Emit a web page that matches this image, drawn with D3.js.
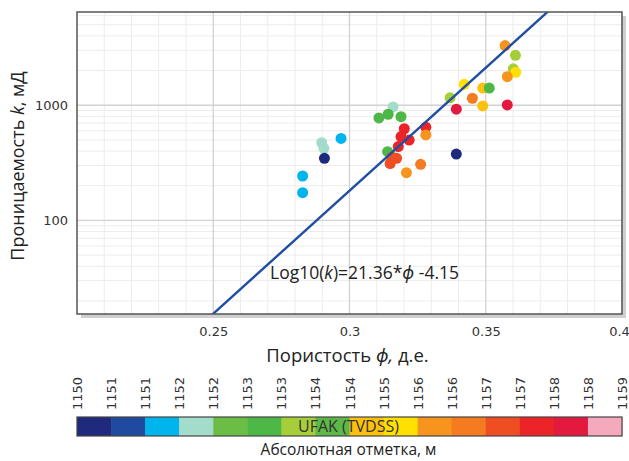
<!DOCTYPE html>
<html>
<head>
<meta charset="utf-8">
<script src="https://cdn.jsdelivr.net/npm/d3@7"></script>
<style>
  body { margin: 0; background: #fff; }
  svg { display: block; }
</style>
</head>
<body>
<div class="chart"></div>
<script>
// porosity / permeability samples, depth (TVDSS) gives the colour
var porosity = [0.3571, 0.3609, 0.3601, 0.3610, 0.3579, 0.3421, 0.3489, 0.3513, 0.3369, 0.3451,
                0.3489, 0.3579, 0.3392, 0.3392, 0.3160, 0.3142, 0.3108, 0.3189, 0.3201, 0.3280,
                0.3280, 0.3189, 0.3219, 0.3179, 0.3140, 0.3173, 0.3149, 0.3156, 0.3261, 0.3209,
                0.2898, 0.2906, 0.2908, 0.2969, 0.2828, 0.2828];
var permeability = [3300, 2710, 2070, 1930, 1770, 1520, 1410, 1410, 1160, 1150,
                    986, 1006, 925, 377, 966, 835, 776, 796, 625, 644,
                    552, 535, 499, 438, 395, 346, 312, 355, 307, 260,
                    473, 423, 346, 515, 243, 174];
var depth = [1155.9, 1153.7, 1153.7, 1155.3, 1155.9, 1155.3, 1154.8, 1153.1, 1153.7, 1156.5,
             1154.8, 1158.1, 1158.1, 1150.3, 1152.0, 1153.1, 1153.1, 1153.1, 1157.6, 1157.6,
             1155.9, 1157.6, 1157.6, 1157.6, 1153.1, 1157.0, 1157.0, 1157.0, 1156.5, 1155.9,
             1152.0, 1152.0, 1150.3, 1151.4, 1151.4, 1151.4];

// fitted trend: log10(k) = slope * phi + intercept
var slope = 21.36;
var intercept = -4.15;

var xTicks = [0.25, 0.3, 0.35, 0.4];
var xTickLabels = ["0.25", "0.3", "0.35", "0.4"];
var yTicks = [100, 1000];

var depthColors = ["#1f2a7c", "#1f4aa0", "#00b4ec", "#a4dccb", "#6bbd45", "#4db748", "#a6ce39", "#5db947",
                   "#fcc00f", "#ffe000", "#f7941d", "#f47b20", "#ef4e23", "#ec2427", "#e3193f", "#f5a9bc"];
var depthTickLabels = ["1150", "1151", "1151", "1152", "1152", "1153", "1153", "1154", "1154",
                       "1155", "1156", "1156", "1157", "1157", "1158", "1158", "1159"];

var width = 629, height = 461;
var m = {left: 77, right: 7, top: 12, bottom: 147};
var pw = width - m.left - m.right, ph = height - m.top - m.bottom;

var svg = d3.select("div.chart").append("svg")
  .attr("width", width)
  .attr("height", height);

var x = d3.scaleLinear().domain([0.2, 0.4]).range([m.left, m.left + pw]);
var y = d3.scaleLog().domain([15.4, 6450]).range([m.top + ph, m.top]);

var defs = svg.append("defs");
defs.append("clipPath").attr("id", "plotclip")
  .append("rect")
  .attr("x", m.left).attr("y", m.top)
  .attr("width", pw).attr("height", ph);

// drop shadow + background
svg.append("rect")
  .attr("x", m.left + 4).attr("y", m.top + 4)
  .attr("width", pw).attr("height", ph)
  .style("fill", "#cfcfcf");
svg.append("rect")
  .attr("x", m.left).attr("y", m.top)
  .attr("width", pw).attr("height", ph)
  .style("fill", "#fff");

// grid
var grid = svg.append("g").attr("clip-path", "url(#plotclip)");
var minorX = d3.range(0.21, 0.40, 0.01).filter(v => Math.abs(v * 20 - Math.round(v * 20)) > 0.01);
grid.selectAll("line.mx").data(minorX).enter().append("line")
  .attr("x1", d => x(d)).attr("x2", d => x(d))
  .attr("y1", m.top).attr("y2", m.top + ph)
  .style("stroke", "#ececec").style("stroke-width", 1);

var minorY = y.ticks(30).filter(v => yTicks.indexOf(v) < 0);
grid.selectAll("line.my").data(minorY).enter().append("line")
  .attr("x1", m.left).attr("x2", m.left + pw)
  .attr("y1", d => y(d)).attr("y2", d => y(d))
  .style("stroke", "#ececec").style("stroke-width", 1);

grid.selectAll("line.gx").data(xTicks).enter().append("line")
  .attr("x1", d => x(d)).attr("x2", d => x(d))
  .attr("y1", m.top).attr("y2", m.top + ph)
  .style("stroke", "#d2d2d2").style("stroke-width", 1.3);
grid.selectAll("line.gy").data(yTicks).enter().append("line")
  .attr("x1", m.left).attr("x2", m.left + pw)
  .attr("y1", d => y(d)).attr("y2", d => y(d))
  .style("stroke", "#d2d2d2").style("stroke-width", 1.3);

// points
var pts = d3.range(porosity.length).map(i => ({phi: porosity[i], k: permeability[i], z: depth[i]}));
var color = d3.scaleQuantize().domain([1150, 1159]).range(depthColors);

var plot = svg.append("g").attr("clip-path", "url(#plotclip)");
plot.selectAll("circle").data(pts).enter().append("circle")
  .attr("cx", d => x(d.phi))
  .attr("cy", d => y(d.k))
  .attr("r", 5.5)
  .style("fill", d => color(d.z));

// trend line
var ends = x.domain().map(p => [p, Math.pow(10, slope * p + intercept)]);
plot.append("line")
  .attr("x1", x(ends[0][0])).attr("y1", y(ends[0][1]))
  .attr("x2", x(ends[1][0])).attr("y2", y(ends[1][1]))
  .style("stroke", "#1f4ea3").style("stroke-width", 2.4);

// frame
svg.append("rect")
  .attr("x", m.left).attr("y", m.top)
  .attr("width", pw).attr("height", ph)
  .style("fill", "none").style("stroke", "#555").style("stroke-width", 1.5);

var tickFont = "'DejaVu Sans', Verdana, sans-serif";
var labelFont = "'Open Sans', 'Noto Sans', sans-serif";

// axes (ticks hidden, only labels)
var xAxis = svg.append("g")
  .attr("transform", "translate(0," + (m.top + ph) + ")")
  .call(d3.axisBottom(x).tickValues(xTicks).tickFormat((d, i) => xTickLabels[i]).tickSize(0).tickPadding(13));
var yAxis = svg.append("g")
  .attr("transform", "translate(" + m.left + ",0)")
  .call(d3.axisLeft(y).tickValues(yTicks).tickFormat(d3.format("d")).tickSize(0).tickPadding(9));
[xAxis, yAxis].forEach(function(a) {
  a.select(".domain").remove();
  a.selectAll("text")
    .style("font-family", tickFont)
    .style("font-size", "13px")
    .style("fill", "#333");
});
// last label sits at the window edge
xAxis.selectAll(".tick text").filter(d => d === 0.4).attr("dx", -3);

// equation
var eq = svg.append("text")
  .attr("x", 270).attr("y", 279)
  .style("font-family", labelFont)
  .style("font-size", "17.5px")
  .style("fill", "#222");
eq.append("tspan").text("Log10(");
eq.append("tspan").style("font-style", "italic").text("k");
eq.append("tspan").text(")=" + slope.toFixed(2) + "*");
eq.append("tspan").style("font-style", "italic").text("ϕ");
eq.append("tspan").text(" -" + Math.abs(intercept).toFixed(2));

// axis titles
var xt = svg.append("text")
  .attr("x", m.left + pw / 2 - 2).attr("y", 362)
  .attr("text-anchor", "middle")
  .style("font-family", labelFont)
  .style("font-size", "18.5px")
  .style("fill", "#222");
xt.append("tspan").text("Пористость ");
xt.append("tspan").style("font-style", "italic").text("ϕ,");
xt.append("tspan").text(" д.е.");

var yt = svg.append("text")
  .attr("transform", "translate(24," + (m.top + ph / 2 + 3) + ") rotate(-90)")
  .attr("text-anchor", "middle")
  .style("font-family", labelFont)
  .style("font-size", "18px")
  .style("fill", "#222");
yt.append("tspan").text("Проницаемость ");
yt.append("tspan").style("font-style", "italic").text("k");
yt.append("tspan").text(", мД");

// colour bar
var cbTop = 417, cbH = 19;
var cbX = d3.scaleLinear().domain([0, depthColors.length]).range([m.left, m.left + pw]);
var cb = svg.append("g");
cb.selectAll("rect").data(depthColors).enter().append("rect")
  .attr("x", (d, i) => cbX(i))
  .attr("y", cbTop)
  .attr("width", (d, i) => cbX(i + 1) - cbX(i) + 0.5)
  .attr("height", cbH)
  .style("fill", d => d);
cb.append("rect")
  .attr("x", m.left).attr("y", cbTop)
  .attr("width", pw).attr("height", cbH)
  .style("fill", "none").style("stroke", "#444").style("stroke-width", 1.2);

cb.selectAll("text.tl").data(depthTickLabels).enter().append("text")
  .attr("class", "tl")
  .attr("transform", (d, i) => "translate(" + (cbX(i) + 5) + "," + (cbTop - 7) + ") rotate(-90)")
  .attr("text-anchor", "start")
  .style("font-family", tickFont)
  .style("font-size", "13px")
  .style("fill", "#333")
  .text(d => d);

cb.append("text")
  .attr("x", m.left + pw / 2 - 1).attr("y", cbTop + 15)
  .attr("text-anchor", "middle")
  .style("font-family", labelFont)
  .style("font-size", "16px")
  .style("fill", "#333")
  .text("UFAK (TVDSS)");

cb.append("text")
  .attr("x", m.left + pw / 2 - 1).attr("y", 455)
  .attr("text-anchor", "middle")
  .style("font-family", labelFont)
  .style("font-size", "15.5px")
  .style("fill", "#222")
  .text("Абсолютная отметка, м");
</script>
</body>
</html>
